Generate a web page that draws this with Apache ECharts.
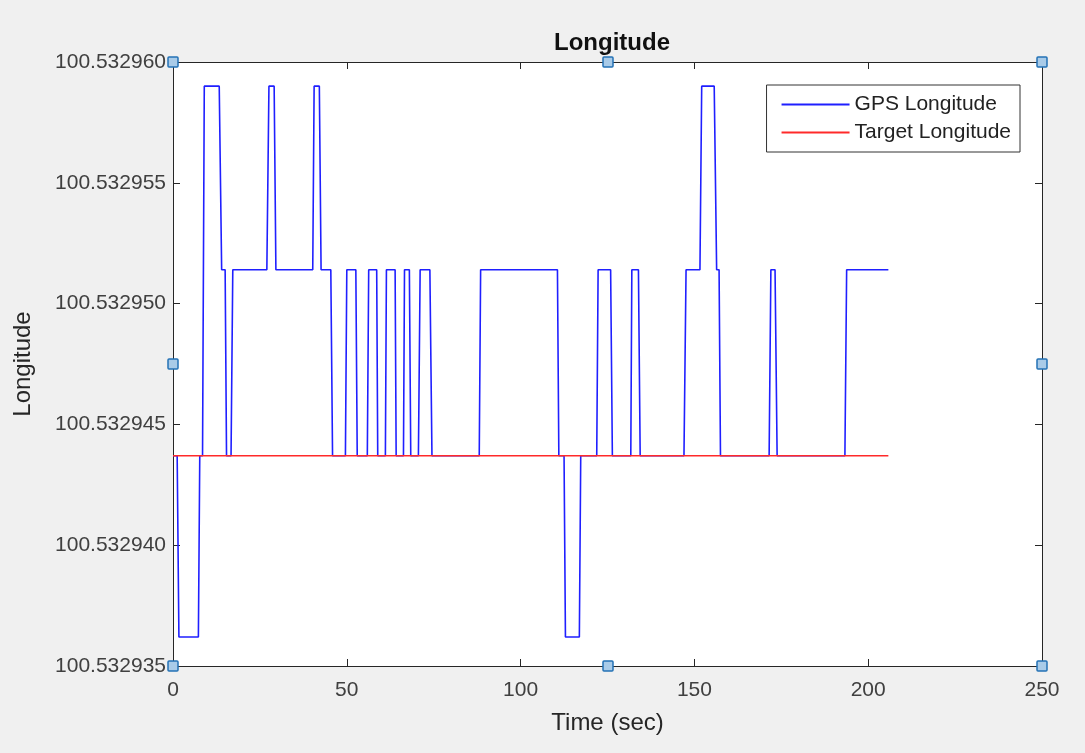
<!DOCTYPE html>
<html>
<head>
<meta charset="utf-8">
<script src="https://cdn.jsdelivr.net/npm/echarts@6/dist/echarts.min.js"></script>
<style>
  html, body { margin: 0; padding: 0; background: #f0f0f0; }
  #main { width: 1085px; height: 753px; }
</style>
</head>
<body>
<div id="main"></div>
<script>
// levels the GPS reading jumps between
var HIGH = 100.5329590
var MID = 100.5329514
var TGT = 100.5329437
var LOW = 100.5329362

// GPS trace corners (time in sec)
var gpsTime = [0, 1.2, 1.7, 7.3, 7.7, 8.5, 9.0, 13.3, 14.0, 15.0, 15.4, 16.7, 17.2,
  27.0, 27.6, 29.1, 29.6, 40.2, 40.6, 42.1, 42.6, 45.4, 45.9,
  49.6, 50.0, 52.6, 53.0, 55.9, 56.3, 58.6, 58.9, 61.1, 61.4, 63.9, 64.2,
  66.3, 66.6, 68.0, 68.4, 70.6, 71.1, 73.9, 74.5,
  88.1, 88.5, 110.6, 111.0, 112.5, 112.9, 116.9, 117.3,
  121.9, 122.3, 125.9, 126.4, 131.7, 132.0, 133.9, 134.4,
  147.0, 147.6, 151.6, 152.1, 155.7, 156.4, 157.1, 157.5,
  171.5, 172.0, 173.2, 173.8, 193.3, 193.8, 205.8]
var gpsLon = [TGT, TGT, LOW, LOW, TGT, TGT, HIGH, HIGH, MID, MID, TGT, TGT, MID,
  MID, HIGH, HIGH, MID, MID, HIGH, HIGH, MID, MID, TGT,
  TGT, MID, MID, TGT, TGT, MID, MID, TGT, TGT, MID, MID, TGT,
  TGT, MID, MID, TGT, TGT, MID, MID, TGT,
  TGT, MID, MID, TGT, TGT, LOW, LOW, TGT,
  TGT, MID, MID, TGT, TGT, MID, MID, TGT,
  TGT, MID, MID, HIGH, HIGH, MID, MID, TGT,
  TGT, MID, MID, TGT, TGT, MID, MID]

var targetTime = [0, 205.8]
var targetLon = [TGT, TGT]

var xTicks = [0, 50, 100, 150, 200, 250]
var yMin = 100.532935
var yMax = 100.532960
var yStep = 0.000005

var font = 'Liberation Sans, Arial, sans-serif'
var axisColor = '#262626'

function pairs(xs, ys) {
  return xs.map(function (x, i) { return [x, ys[i]] })
}

var chart = echarts.init(document.getElementById('main'))

var boxAxis = {
  axisLine: { show: true, onZero: false, lineStyle: { color: axisColor, width: 1 } },
  axisTick: { show: true, inside: true, length: 7, lineStyle: { color: axisColor } },
  splitLine: { show: false }
}

chart.setOption({
  backgroundColor: '#f0f0f0',
  animation: false,
  title: {
    text: 'Longitude',
    left: 607,
    textAlign: 'center',
    top: 26,
    textStyle: { fontFamily: font, fontSize: 24, fontWeight: 'bold', color: '#111' }
  },
  legend: {
    orient: 'vertical',
    right: 65,
    top: 85,
    padding: [9, 9, 9, 15],
    backgroundColor: '#fff',
    borderColor: '#333',
    borderWidth: 1,
    itemWidth: 68,
    itemHeight: 2,
    itemGap: 7,
    icon: 'rect',
    textStyle: { fontFamily: font, fontSize: 21, color: '#222' },
    data: ['GPS Longitude', 'Target Longitude']
  },
  grid: { left: 173, right: 43, top: 62, bottom: 87, show: true, backgroundColor: '#fff', borderWidth: 0 },
  xAxis: [
    Object.assign({
      type: 'value', min: xTicks[0], max: xTicks[xTicks.length - 1], interval: 50,
      name: 'Time (sec)', nameLocation: 'middle', nameGap: 45,
      nameTextStyle: { fontFamily: font, fontSize: 24, color: '#262626' },
      axisLabel: { fontFamily: font, fontSize: 21, color: '#404040', margin: 14 }
    }, boxAxis),
    Object.assign({
      type: 'value', position: 'top', min: xTicks[0], max: xTicks[xTicks.length - 1], interval: 50,
      axisLabel: { show: false }
    }, boxAxis)
  ],
  yAxis: [
    Object.assign({
      type: 'value', min: yMin, max: yMax, interval: yStep,
      name: 'Longitude', nameLocation: 'middle', nameGap: 138, nameRotate: 90,
      nameTextStyle: { fontFamily: font, fontSize: 24, color: '#262626' },
      axisLabel: {
        fontFamily: font, fontSize: 21, color: '#404040', margin: 7,
        formatter: function (v) { return v.toFixed(6) }
      }
    }, boxAxis),
    Object.assign({
      type: 'value', position: 'right', min: yMin, max: yMax, interval: yStep,
      axisLabel: { show: false }
    }, boxAxis)
  ],
  series: [
    {
      name: 'GPS Longitude',
      type: 'line',
      showSymbol: false,
      color: '#1f1fff',
      lineStyle: { width: 1.6, color: '#1f1fff' },
      data: pairs(gpsTime, gpsLon)
    },
    {
      name: 'Target Longitude',
      type: 'line',
      showSymbol: false,
      color: '#ff2a2a',
      lineStyle: { width: 1.6, color: '#ff2a2a' },
      data: pairs(targetTime, targetLon)
    }
  ]
})

// MATLAB-style selection handles at corners and edge midpoints of the axes
var hx = [xTicks[0], (xTicks[0] + xTicks[xTicks.length - 1]) / 2, xTicks[xTicks.length - 1]]
var hy = [yMin, (yMin + yMax) / 2, yMax]
var handles = []
hy.forEach(function (yv, j) {
  hx.forEach(function (xv, i) {
    if (i === 1 && j === 1) return
    var p = chart.convertToPixel({ xAxisIndex: 0, yAxisIndex: 0 }, [xv, yv])
    handles.push({
      type: 'rect',
      shape: { x: Math.round(p[0]) - 5, y: Math.round(p[1]) - 5, width: 10, height: 10, r: 1 },
      style: { fill: '#a9cbe8', stroke: '#2372b5', lineWidth: 1.5 },
      z: 100
    })
  })
})
chart.setOption({ graphic: handles })
</script>
</body>
</html>
